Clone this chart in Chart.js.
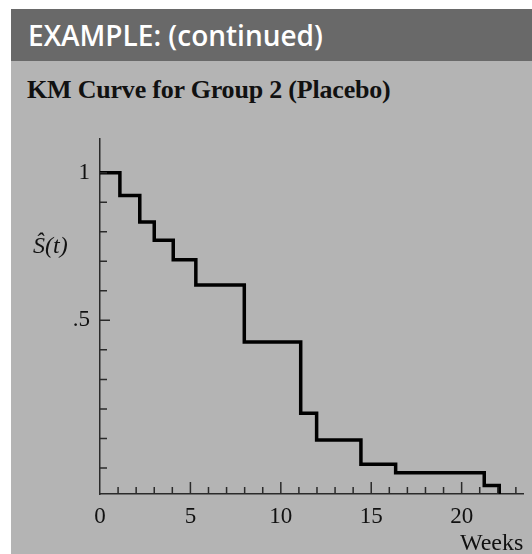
<!DOCTYPE html>
<html>
<head>
<meta charset="utf-8">
<script src="https://cdn.jsdelivr.net/npm/chart.js@4/dist/chart.umd.min.js"></script>
<style>
  html, body { margin: 0; padding: 0; background: #fff; }
  body { width: 532px; height: 554px; position: relative; overflow: hidden; }
  .panel { position: absolute; left: 11px; top: 9px; right: 0; bottom: 0; background: #b4b4b4; }
  .header { position: absolute; left: 11px; top: 9px; right: 0; height: 52px; background: #696969;
    color: #fff; font-family: "Open Sans", sans-serif; font-weight: 600; font-size: 28px;
    line-height: 52px; padding-left: 17px; box-sizing: border-box; }
  .title { position: absolute; left: 27px; top: 75px; font-family: "Liberation Serif", serif;
    font-weight: bold; font-size: 26px; letter-spacing: -0.2px; color: #111; }
  #wrap { position: absolute; left: 0; top: 0; width: 532px; height: 554px; }
</style>
</head>
<body>
<div class="panel"></div>
<div class="header">EXAMPLE: (continued)</div>
<div class="title">KM Curve for Group 2 (Placebo)</div>
<div id="wrap"><canvas id="kmChart"></canvas></div>
<script>
// step times (weeks) and estimated survival
const weeks = [0, 1.1, 2.2, 3.0, 4.05, 5.3, 7.98, 11.1, 11.98, 14.43, 16.35, 21.25, 22.08];
const survival = [1.0, 0.923, 0.833, 0.771, 0.705, 0.62, 0.427, 0.185, 0.095, 0.0125, -0.016, -0.059, -0.088];

const xTicks = [0, 1, 2, 3, 4, 5, 6, 7, 8, 9, 10, 11, 12, 13, 14, 15, 16, 17, 18, 19, 20, 21, 22, 23];
const xTickLabels = { 0: '0', 5: '5', 10: '10', 15: '15', 20: '20' };
const yTicks = [0, 0.1, 0.2, 0.3, 0.4, 0.5, 0.6, 0.7, 0.8, 0.9, 1];
const yTickLabels = { 0.5: '.5', 1: '1' };

const serif = '"Liberation Serif", "Times New Roman", serif';

const innerTicks = {
  id: 'innerTicks',
  afterDatasetsDraw(chart) {
    const { ctx, scales: { x, y } } = chart;
    ctx.save();
    ctx.strokeStyle = '#2a2a2a';
    ctx.lineWidth = 1.5;
    ctx.beginPath();
    yTicks.forEach(v => {
      const py = y.getPixelForValue(v);
      const len = v === 0.5 ? 10 : 7;
      ctx.moveTo(x.left, py);
      ctx.lineTo(x.left + len, py);
    });
    xTicks.forEach(v => {
      if (v === 0) return;
      const px = x.getPixelForValue(v);
      const len = v % 5 === 0 ? 12 : 7;
      ctx.moveTo(px, y.bottom);
      ctx.lineTo(px, y.bottom - len);
    });
    ctx.stroke();
    // S-hat(t) label
    const ly = y.getPixelForValue(0.75);
    ctx.fillStyle = '#111';
    ctx.font = 'italic 24px ' + serif;
    ctx.textBaseline = 'middle';
    ctx.textAlign = 'left';
    ctx.fillText('S\u0302(t)', 33, ly);
    ctx.restore();
  }
};

const ctx = document.getElementById('kmChart').getContext('2d');
const kmChart = new Chart(ctx, {
  type: 'line',
  data: {
    datasets: [{
      label: 'Group 2 (Placebo)',
      data: weeks.map((w, i) => ({ x: w, y: survival[i] })),
      stepped: 'before',
      borderColor: '#000',
      borderWidth: 3.5,
      pointRadius: 0,
      fill: false
    }]
  },
  options: {
    responsive: true,
    maintainAspectRatio: false,
    animation: false,
    layout: { padding: { left: 0, right: 8.7, top: 139, bottom: 0 } },
    plugins: { legend: { display: false }, tooltip: { enabled: false } },
    scales: {
      x: {
        type: 'linear',
        min: 0,
        max: 23.41,
        afterBuildTicks: s => { s.ticks = xTicks.map(v => ({ value: v })); },
        afterFit: s => { s.height = 60; },
        grid: { display: false, drawTicks: false },
        border: { display: true, color: '#2a2a2a', width: 1.5 },
        ticks: {
          autoSkip: false,
          maxRotation: 0,
          padding: 9,
          color: '#111',
          font: { family: serif, size: 23 },
          callback: v => xTickLabels[v] || ''
        },
        title: {
          display: true,
          text: 'Weeks',
          align: 'end',
          color: '#111',
          font: { family: serif, size: 24 },
          padding: { top: 0, bottom: -4 }
        }
      },
      y: {
        type: 'linear',
        min: -0.088,
        max: 1.114,
        afterBuildTicks: s => { s.ticks = yTicks.map(v => ({ value: v })); },
        afterFit: s => { s.width = 100; },
        grid: { display: false, drawTicks: false },
        border: { display: true, color: '#2a2a2a', width: 1.5 },
        ticks: {
          autoSkip: false,
          padding: 10,
          color: '#111',
          font: { family: serif, size: 23 },
          callback: v => yTickLabels[v] || ''
        }
      }
    }
  },
  plugins: [innerTicks]
});
</script>
</body>
</html>
